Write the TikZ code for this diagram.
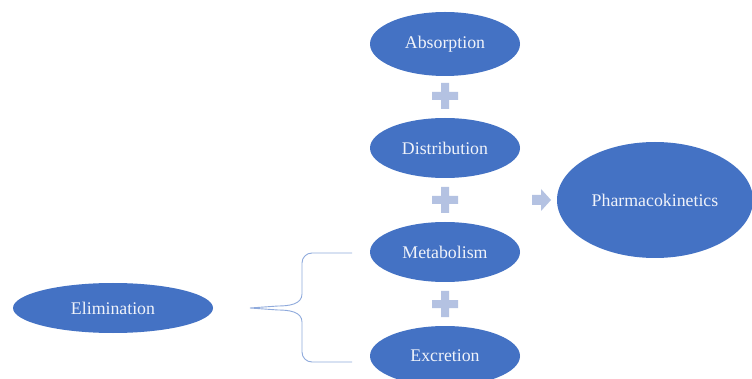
\documentclass[tikz,border=0pt]{standalone}
\usepackage{fontspec}
\setmainfont{Liberation Serif}
\usetikzlibrary{shapes.geometric}
\definecolor{pkblue}{HTML}{4472C4}
\definecolor{pklight}{HTML}{B4C2E2}
\definecolor{pkbrace}{HTML}{8FAADC}
\definecolor{pktext}{HTML}{F0F3FA}
\begin{document}
\begin{tikzpicture}[x=1pt,y=-1pt,
    blob/.style={ellipse,fill=pkblue,text=pktext,inner sep=0pt,
      font=\fontsize{17.8}{20}\selectfont},
    plussign/.pic={\fill[pklight] (-4,-13) rectangle (4,13) (-13,-4) rectangle (13,4);}]
  \useasboundingbox (0,0) rectangle (752,379);
  \clip (0,0) rectangle (752,379);
  \fill[white] (0,0) rectangle (752,379);
  \node[blob,minimum width=150,minimum height=64] (absorb) at (445,44) {Absorption};
  \node[blob,minimum width=150,minimum height=60] (distrib) at (445,148) {Distribution};
  \node[blob,minimum width=150,minimum height=60] (metab) at (445,252) {Metabolism};
  \node[blob,minimum width=150,minimum height=60] (excret) at (445,356) {Excretion};
  \node[blob,minimum width=200,minimum height=50] (elim) at (113,308) {Elimination};
  \node[blob,minimum width=196,minimum height=116] (pk) at (655,200) {Pharmacokinetics};
  \pic at (445,96) {plussign};
  \pic at (445,200) {plussign};
  \pic at (445,304) {plussign};
  \fill[pklight] (532,195) -- (541,195) -- (541,189) -- (551,200) -- (541,211)
    -- (541,205) -- (532,205) -- cycle;
  \coordinate (btop) at (352,253);
  \coordinate (bbot) at (352,362);
  \coordinate (btip) at (250,308);
  \draw[pkbrace,line width=0.9pt] (btop) -- (312,253) to[out=180,in=90] (302,263)
    -- (302,294) to[out=-90,in=0] (278,306) -- (btip)
    -- (278,310) to[out=0,in=90] (302,322) -- (302,352)
    to[out=-90,in=180] (312,362) -- (bbot);
\end{tikzpicture}
\end{document}
